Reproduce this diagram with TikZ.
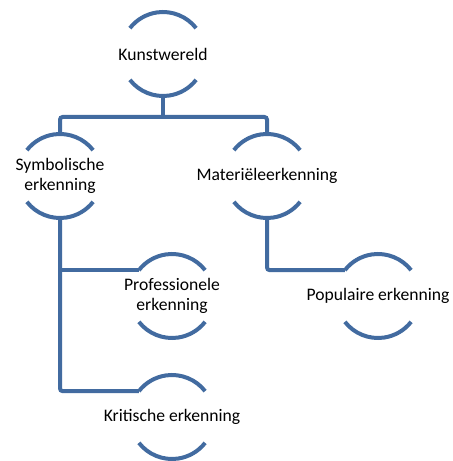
\documentclass[tikz,border=0pt]{standalone}
\usepackage{fontspec}
\setmainfont{Carlito}
\definecolor{ringblue}{RGB}{66,107,160}
\tikzset{
  ring/.style={draw=ringblue,line width=3pt},
  link/.style={draw=ringblue,line width=3pt,rounded corners=2pt},
  label/.style={font=\fontsize{13.2}{15}\selectfont,align=center,inner sep=0pt}
}
\newcommand{\rr}{31.5pt}
\begin{document}
\begin{tikzpicture}[x=0.75pt,y=0.75pt]
\useasboundingbox (0,0) rectangle (453,461);
% nodes
\node[label] (kunst) at (163,407) {Kunstwereld};
\node[label] (symb) at (60,285) {Symbolische\\erkenning};
\node[label] (mat) at (267,285) {Materiëleerkenning};
\node[label] (prof) at (172,165) {Professionele\\erkenning};
\node[label] (pop) at (378,165) {Populaire erkenning};
\node[label] (krit) at (172,44) {Kritische erkenning};
% arcs above and below each label
\foreach \n in {kunst,symb,mat,prof,pop,krit}{
  \draw[ring] ([shift={(38:\rr)}]\n.center) arc[start angle=38,end angle=142,radius=\rr];
  \draw[ring] ([shift={(218:\rr)}]\n.center) arc[start angle=218,end angle=322,radius=\rr];
}
% connectors
\coordinate (bar) at (163,344);
\draw[link] ([yshift=-\rr]kunst.center) -- (bar);
\draw[link] ([yshift=\rr]symb.center) |- (bar) -| ([yshift=\rr]mat.center);
\coordinate (profend) at ([shift={(142:\rr)}]prof.center);
\coordinate (kritend) at ([shift={(142:\rr)}]krit.center);
\coordinate (popend) at ([shift={(142:\rr)}]pop.center);
\draw[link] ([yshift=-\rr]symb.center) |- (kritend);
\draw[link] (profend -| symb.center) -- (profend);
\draw[link] ([yshift=-\rr]mat.center) |- (popend);
\end{tikzpicture}
\end{document}
